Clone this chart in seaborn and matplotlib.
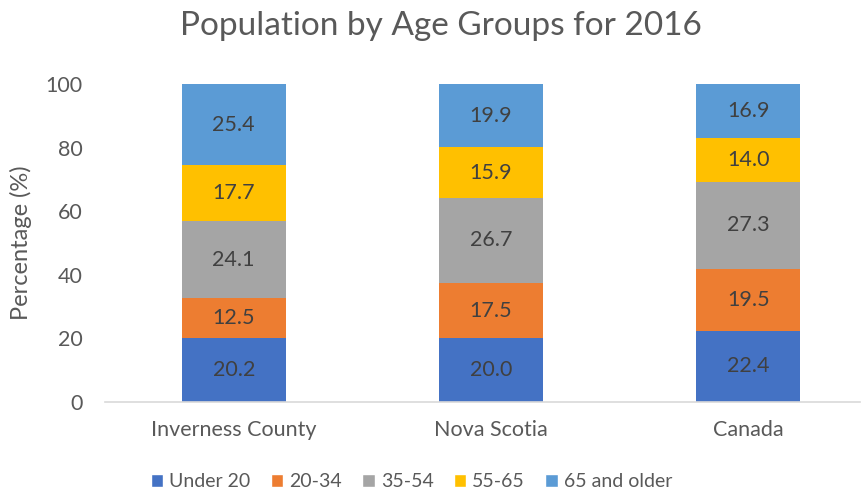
import numpy as np
import pandas as pd
import seaborn as sns
import matplotlib.pyplot as plt
from matplotlib.patches import Patch

regions = ['Inverness County', 'Nova Scotia', 'Canada']
age_groups = ['Under 20', '20-34', '35-54', '55-65', '65 and older']
under_20 = [20.2, 20.0, 22.4]
age_20_34 = [12.5, 17.5, 19.5]
age_35_54 = [24.1, 26.7, 27.3]
age_55_65 = [17.7, 15.9, 14.0]
age_65_up = [25.4, 19.9, 16.9]

group_colors = ['#4472C4', '#ED7D31', '#A5A5A5', '#FFC000', '#5B9BD5']

sns.set_style("white")
plt.rcParams['font.family'] = ['Lato', 'DejaVu Sans']

df = pd.DataFrame({'region': regions,
                   'Under 20': under_20,
                   '20-34': age_20_34,
                   '35-54': age_35_54,
                   '55-65': age_55_65,
                   '65 and older': age_65_up})

fig = plt.figure(figsize=(8.68, 4.92), dpi=100)
ax = fig.add_axes([0.121, 0.183, 0.870, 0.646])

bottom = np.zeros(len(regions))
for grp, col in zip(age_groups, group_colors):
    sns.barplot(data=df, x='region', y=grp, color=col, bottom=bottom,
                width=0.404, saturation=1, ax=ax, linewidth=0)
    ax.bar_label(ax.containers[-1], fmt='%.1f', label_type='center',
                 fontsize=15.5, color='#404040')
    bottom = bottom + df[grp].values

ax.set_ylim(0, 100)
ax.set_xlim(-0.5, 2.434)
ax.set_yticks(range(0, 101, 20))
ax.tick_params(axis='both', labelsize=15.5, colors='#595959', length=0)
ax.tick_params(axis='x', pad=13)
ax.tick_params(axis='y', pad=16)
ax.set_xlabel('')
ax.set_ylabel('Percentage (%)', fontsize=17, color='#595959', labelpad=10)
for s in ['top', 'right', 'left']:
    ax.spines[s].set_visible(False)
ax.spines['bottom'].set_color('#D9D9D9')
ax.spines['bottom'].set_linewidth(1.2)

fig.suptitle('Population by Age Groups for 2016', x=0.508, y=0.978,
             fontsize=24, color='#595959')

handles = [Patch(facecolor=c, label=g) for g, c in zip(age_groups, group_colors)]
fig.legend(handles=handles, loc='center', bbox_to_anchor=(0.474, 0.021), ncol=5,
           frameon=False, fontsize=14, labelcolor='#595959', handlelength=0.65,
           handleheight=0.65, handletextpad=0.3, columnspacing=1.05)

fig.savefig('out.png', dpi=100)
